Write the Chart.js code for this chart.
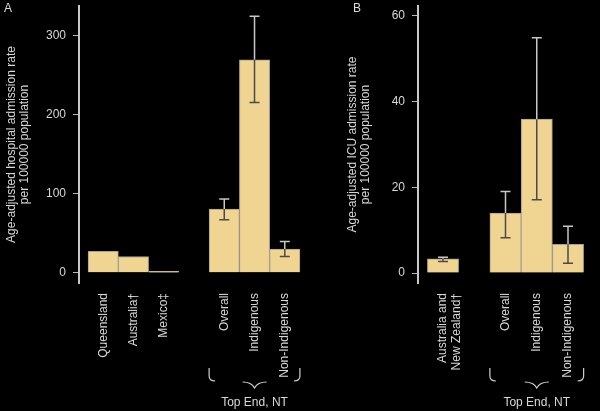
<!DOCTYPE html>
<html>
<head>
<meta charset="utf-8">
<script src="https://cdn.jsdelivr.net/npm/chart.js@4"></script>
<style>
  html, body { margin: 0; padding: 0; background: #000; }
  #wrap { position: relative; width: 600px; height: 411px; overflow: hidden; background: #000; }
  .panel { position: absolute; top: 0; height: 411px; }
  .letter { position: absolute; top: 1px; color: #dcdcdc; font: 12px "Liberation Sans", Arial, sans-serif; }
</style>
</head>
<body>
<div id="wrap">
  <div class="panel" style="left:0;width:320px"><canvas id="chartA"></canvas></div>
  <div class="panel" style="left:320px;width:280px"><canvas id="chartB"></canvas></div>
  <div class="letter" style="left:4px">A</div>
  <div class="letter" style="left:353px">B</div>
</div>
<script>
// Panel A: hospital admissions
const hospRefLabels = ['Queensland', 'Australia†', 'Mexico‡'];
const hospRefValues = [27, 20.5, 1.7];
const hospNtLabels = ['Overall', 'Indigenous', 'Non-Indigenous'];
const hospNtValues = [80.5, 269, 30];
const hospNtLow = [67, 215, 20.5];
const hospNtHigh = [93, 324, 39.5];
const hospTicks = [0, 100, 200, 300];

// Panel B: ICU admissions
const icuRefLabels = [['Australia and', 'New Zealand†']];
const icuRefValues = [3.3];
const icuRefLow = [2.7];
const icuRefHigh = [3.7];
const icuNtLabels = ['Overall', 'Indigenous', 'Non-Indigenous'];
const icuNtValues = [14, 35.9, 6.7];
const icuNtLow = [8.2, 17.1, 2.3];
const icuNtHigh = [19, 54.9, 10.9];
const icuTicks = [0, 20, 40, 60];

const groupTitle = 'Top End, NT';

const FONT = '"Liberation Sans", Arial, sans-serif';
const TEXT = '#d8d8d8';

// error bars: light above the bar top, dark where they run over the bar
const errorBars = {
  id: 'errorBars',
  afterDatasetsDraw(chart) {
    const ctx = chart.ctx;
    const yScale = chart.scales.y;
    chart.data.datasets.forEach((ds, di) => {
      const meta = chart.getDatasetMeta(di);
      meta.data.forEach((bar, i) => {
        const lo = ds.errLow[i], hi = ds.errHigh[i];
        if (lo == null || hi == null) return;
        const x = bar.x, top = bar.y;
        const yLo = yScale.getPixelForValue(lo);
        const yHi = yScale.getPixelForValue(hi);
        ctx.save();
        ctx.lineWidth = 1.5;
        if (yHi < top) {
          ctx.strokeStyle = '#c8c8c8';
          ctx.beginPath();
          ctx.moveTo(x, yHi); ctx.lineTo(x, top);
          ctx.moveTo(x - 5, yHi); ctx.lineTo(x + 5, yHi);
          ctx.stroke();
        }
        ctx.strokeStyle = '#4a4a4a';
        ctx.beginPath();
        ctx.moveTo(x, Math.max(yHi, top)); ctx.lineTo(x, yLo);
        ctx.moveTo(x - 5, yLo); ctx.lineTo(x + 5, yLo);
        if (yHi >= top) { ctx.moveTo(x - 5, yHi); ctx.lineTo(x + 5, yHi); }
        ctx.stroke();
        ctx.restore();
      });
    });
  }
};

// brace and caption under the Top End group
const groupBrace = {
  id: 'groupBrace',
  afterDraw(chart, args, opts) {
    const meta = chart.getDatasetMeta(0);
    const first = meta.data[opts.from], last = meta.data[meta.data.length - 1];
    const L = first.x - first.width / 2, R = last.x + last.width / 2;
    const c = (L + R) / 2;
    const ctx = chart.ctx;
    ctx.save();
    ctx.strokeStyle = '#d0d0d0';
    ctx.lineWidth = 1.2;
    ctx.beginPath();
    ctx.moveTo(L, 368); ctx.lineTo(L, 376);
    ctx.quadraticCurveTo(L, 381, L + 6, 381);
    ctx.moveTo(R, 368); ctx.lineTo(R, 376);
    ctx.quadraticCurveTo(R, 381, R - 6, 381);
    ctx.moveTo(c - 12, 382);
    ctx.quadraticCurveTo(c - 3, 382, c, 388);
    ctx.quadraticCurveTo(c + 3, 382, c + 12, 382);
    ctx.stroke();
    ctx.fillStyle = TEXT;
    ctx.font = '12px ' + FONT;
    ctx.textAlign = 'center';
    ctx.textBaseline = 'middle';
    ctx.fillText(groupTitle, c, 403);
    ctx.restore();
  }
};

function makePanel(id, p) {
  const labels = p.refLabels.concat(p.ntLabels);
  const xs = p.refLabels.map((_, i) => i)
    .concat(p.ntLabels.map((_, j) => p.refLabels.length + 1 + j));
  const values = p.refValues.concat(p.ntValues);
  const low = (p.refLow || p.refLabels.map(() => null)).concat(p.ntLow);
  const high = (p.refHigh || p.refLabels.map(() => null)).concat(p.ntHigh);

  return new Chart(document.getElementById(id), {
    type: 'bar',
    data: {
      datasets: [{
        data: xs.map((x, i) => ({ x: x, y: values[i] })),
        errLow: low,
        errHigh: high,
        backgroundColor: '#f0d592',
        borderColor: '#a8a090',
        borderWidth: 1,
        barPercentage: 1,
        categoryPercentage: 1
      }]
    },
    options: {
      responsive: true,
      maintainAspectRatio: false,
      animation: false,
      layout: { padding: { top: 6, right: p.padRight, bottom: 0, left: 0 } },
      plugins: {
        legend: { display: false },
        tooltip: { enabled: false },
        groupBrace: { from: p.refLabels.length }
      },
      scales: {
        x: {
          type: 'linear',
          offset: false,
          min: -0.8,
          max: xs[xs.length - 1] + 0.8,
          afterBuildTicks: s => { s.ticks = xs.map(v => ({ value: v })); },
          afterFit: s => { s.height = 128; s.paddingLeft = 0; s.paddingRight = 0; },
          border: { display: false },
          grid: { display: false, offset: false },
          ticks: {
            autoSkip: false, minRotation: 90, maxRotation: 90,
            color: TEXT, font: { family: FONT, size: 12, lineHeight: 1.1 }, padding: 2,
            callback: (v, i) => labels[i]
          }
        },
        y: {
          min: p.yMin,
          max: p.yMax,
          afterBuildTicks: s => { s.ticks = p.ticks.map(v => ({ value: v })); },
          afterFit: s => { s.width = p.axisWidth; s.paddingTop = 0; s.paddingBottom = 0; },
          border: { display: true, color: '#c8c8c8', width: 2 },
          grid: { drawOnChartArea: false, drawTicks: true, tickLength: 6, color: '#b8b8b8' },
          ticks: { color: TEXT, font: { family: FONT, size: 12 }, padding: 7 },
          title: {
            display: true,
            text: p.title,
            color: TEXT,
            font: { family: FONT, size: 12, lineHeight: 1.1 },
            padding: { top: p.titlePad, bottom: 0 }
          }
        }
      }
    },
    plugins: [errorBars, groupBrace]
  });
}

makePanel('chartA', {
  refLabels: hospRefLabels, refValues: hospRefValues,
  ntLabels: hospNtLabels, ntValues: hospNtValues, ntLow: hospNtLow, ntHigh: hospNtHigh,
  ticks: hospTicks, yMin: -13, yMax: 337,
  title: ['Age-adjusted hospital admission rate', 'per 100000 population'],
  axisWidth: 79, padRight: 11, titlePad: 5
});

makePanel('chartB', {
  refLabels: icuRefLabels, refValues: icuRefValues, refLow: icuRefLow, refHigh: icuRefHigh,
  ntLabels: icuNtLabels, ntValues: icuNtValues, ntLow: icuNtLow, ntHigh: icuNtHigh,
  ticks: icuTicks, yMin: -2.33, yMax: 62.3,
  title: ['Age-adjusted ICU admission rate', 'per 100000 population'],
  axisWidth: 98, padRight: 7, titlePad: 26
});
</script>
</body>
</html>
